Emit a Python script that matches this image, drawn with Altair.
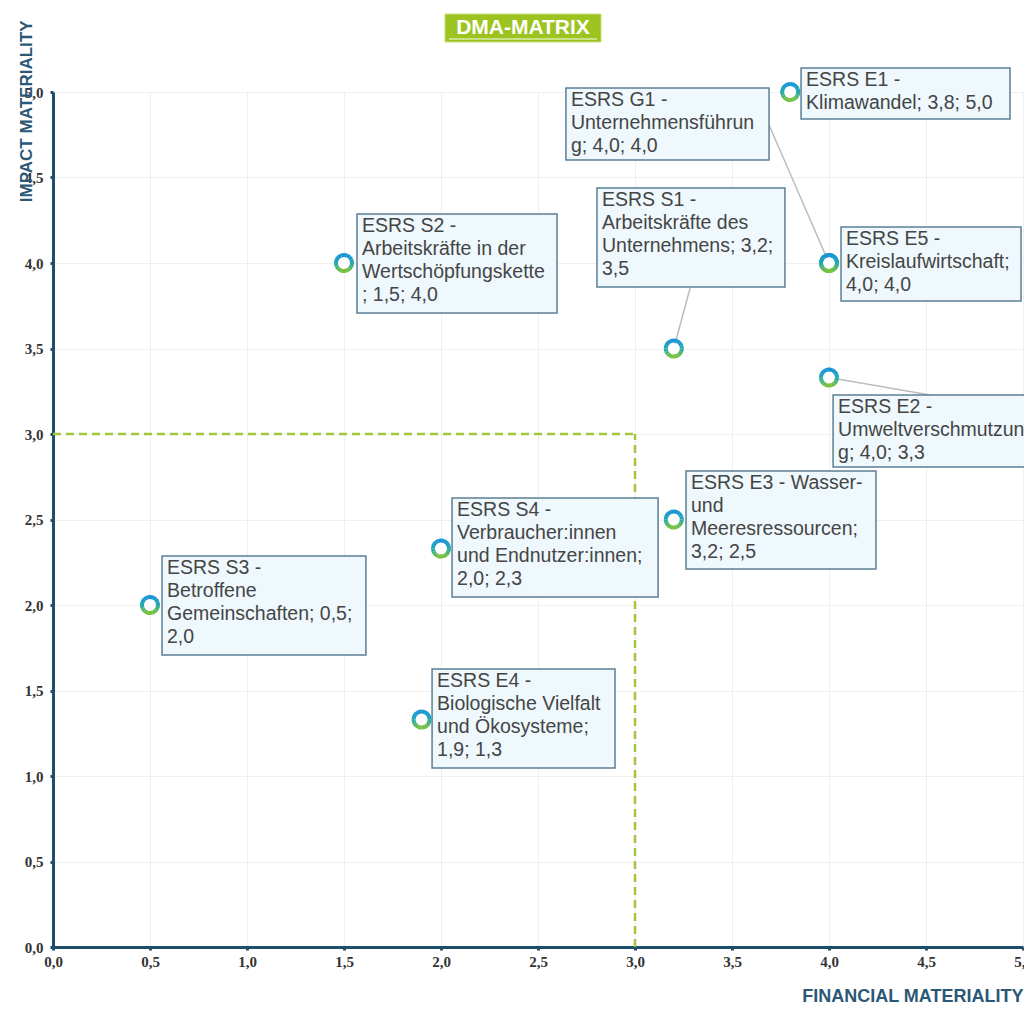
import math
import altair as alt
import pandas as pd

# Topics (points)
codes = ["E1", "G1", "S1", "S2", "E5", "E2", "E3", "S4", "S3", "E4"]
fin = [3.8, 4.0, 3.2, 1.5, 4.0, 4.0, 3.2, 2.0, 0.5, 1.9]
imp = [5.0, 4.0, 3.5, 4.0, 4.0, 3.33, 2.5, 2.33, 2.0, 1.33]
labels = [
    "ESRS E1 -\nKlimawandel; 3,8; 5,0",
    "ESRS G1 -\nUnternehmensführun\ng; 4,0; 4,0",
    "ESRS S1 -\nArbeitskräfte des\nUnternehmens; 3,2;\n3,5",
    "ESRS S2 -\nArbeitskräfte in der\nWertschöpfungskette\n; 1,5; 4,0",
    "ESRS E5 -\nKreislaufwirtschaft;\n4,0; 4,0",
    "ESRS E2 -\nUmweltverschmutzun\ng; 4,0; 3,3",
    "ESRS E3 - Wasser-\nund\nMeeresressourcen;\n3,2; 2,5",
    "ESRS S4 -\nVerbraucher:innen\nund Endnutzer:innen;\n2,0; 2,3",
    "ESRS S3 -\nBetroffene\nGemeinschaften; 0,5;\n2,0",
    "ESRS E4 -\nBiologische Vielfalt\nund Ökosysteme;\n1,9; 1,3",
]
# Label box extents (data units)
box_x0 = [3.856, 2.644, 2.804, 1.567, 4.062, 4.021, 3.263, 2.057, 0.562, 1.954]
box_x1 = [4.933, 3.691, 3.773, 2.598, 4.990, 5.300, 4.242, 3.119, 1.613, 2.897]
box_y0 = [5.140, 5.023, 4.439, 4.287, 4.211, 3.228, 2.784, 2.626, 2.287, 1.626]
box_y1 = [4.842, 4.602, 3.860, 3.708, 3.778, 2.807, 2.211, 2.047, 1.708, 1.047]

# Leader lines from label to point
lead_x0 = [3.691, 3.284, 4.0]
lead_y0 = [4.807, 3.854, 3.33]
lead_x1 = [4.0, 3.2, 4.521]
lead_y1 = [4.0, 3.5, 3.228]

# Threshold dashed lines
thr_x0 = [0.0, 3.0]
thr_y0 = [3.0, 0.0]
thr_x1 = [3.0, 3.0]
thr_y1 = [3.0, 3.0]

ticks = [0, 0.5, 1, 1.5, 2, 2.5, 3, 3.5, 4, 4.5, 5]

pts = pd.DataFrame({"code": codes, "fin": fin, "imp": imp, "label": labels,
                    "bx0": box_x0, "bx1": box_x1, "by0": box_y0, "by1": box_y1})
leads = pd.DataFrame({"x0": lead_x0, "y0": lead_y0, "x1": lead_x1, "y1": lead_y1})
thr = pd.DataFrame({"x0": thr_x0, "y0": thr_y0, "x1": thr_x1, "y1": thr_y1})

# Ring styling: blue at the top fading to green at the bottom
top_rgb = (0x18, 0x96, 0xd6)
mid_rgb = (0x1f, 0xa8, 0xb4)
bot_rgb = (0x7a, 0xc3, 0x3c)
nseg = 16
ring_rows = []
for c, fx, iy in zip(codes, fin, imp):
    for k in range(nseg):
        a0 = k * 2 * math.pi / nseg
        a1 = (k + 1) * 2 * math.pi / nseg + 0.02
        t = (1 - math.cos((a0 + a1) / 2)) / 2
        if t < 0.5:
            s = t / 0.5
            rgb = tuple(int(round(top_rgb[j] + (mid_rgb[j] - top_rgb[j]) * s)) for j in range(3))
        else:
            s = (t - 0.5) / 0.5
            rgb = tuple(int(round(mid_rgb[j] + (bot_rgb[j] - mid_rgb[j]) * s)) for j in range(3))
        ring_rows.append({"fin": fx, "imp": iy, "a0": a0, "a1": a1,
                          "col": "#%02x%02x%02x" % rgb})
ring = pd.DataFrame(ring_rows)

axis_color = "#1f4e6b"
title_color = "#2b5876"
lab_expr = "replace(format(datum.value, '.1f'), '.', ',')"

xscale = alt.Scale(domain=[0, 5], nice=False, zero=False)
yscale = alt.Scale(domain=[0, 5], nice=False, zero=False)

xaxis = alt.Axis(values=ticks, labelExpr=lab_expr, title="FINANCIAL MATERIALITY",
                 titleAnchor="end", titleAlign="right", titleX=970, titleY=49,
                 titleBaseline="middle", titleFont="Liberation Sans", titleFontSize=18,
                 titleFontWeight="bold", titleColor=title_color,
                 domainColor=axis_color, domainWidth=3, tickColor=axis_color,
                 tickSize=3, tickWidth=3, labelFont="Liberation Serif",
                 labelFontWeight="bold", labelFontSize=15, labelColor="#333333",
                 labelPadding=4, grid=True, gridColor="#efefef", gridWidth=1,
                 labelFlush=False)
yaxis = alt.Axis(values=ticks, labelExpr=lab_expr, title="IMPACT MATERIALITY",
                 titleAnchor="end", titleAngle=270, titleAlign="right",
                 titleX=-27, titleY=-72, titleBaseline="middle",
                 titleFont="Liberation Sans", titleFontSize=17, titleFontWeight="bold",
                 titleColor=title_color, domainColor=axis_color, domainWidth=3,
                 tickColor=axis_color, tickSize=3, tickWidth=3,
                 labelFont="Liberation Serif", labelFontWeight="bold", labelFontSize=15,
                 labelColor="#333333", labelPadding=7, grid=True, gridColor="#efefef",
                 gridWidth=1, labelFlush=False)

base_axes = alt.Chart(pts).mark_point(opacity=0).encode(
    x=alt.X("fin:Q", scale=xscale, axis=xaxis),
    y=alt.Y("imp:Q", scale=yscale, axis=yaxis),
)

threshold = alt.Chart(thr).mark_rule(color="#a4c639", strokeWidth=2.5,
                                     strokeDash=[8, 5]).encode(
    x=alt.X("x0:Q", scale=xscale), y=alt.Y("y0:Q", scale=yscale),
    x2="x1:Q", y2="y1:Q")

lead_lines = alt.Chart(leads).mark_rule(color="#bdbdbd", strokeWidth=1.5).encode(
    x=alt.X("x0:Q", scale=xscale), y=alt.Y("y0:Q", scale=yscale),
    x2="x1:Q", y2="y1:Q")

boxes = alt.Chart(pts).mark_rect(fill="#eef8fd", stroke="#5b7f94",
                                 strokeWidth=1.5).encode(
    x=alt.X("bx0:Q", scale=xscale), x2="bx1:Q",
    y=alt.Y("by0:Q", scale=yscale), y2="by1:Q")

texts = alt.Chart(pts).mark_text(align="left", baseline="top", dx=5, dy=3,
                                 font="Liberation Sans", fontSize=19.5,
                                 lineHeight=23, lineBreak="\n",
                                 color="#454545").encode(
    x=alt.X("bx0:Q", scale=xscale), y=alt.Y("by0:Q", scale=yscale),
    text="label:N")

points = alt.Chart(pts).mark_point(shape="circle", size=110, filled=True,
                                   color="white", opacity=1).encode(
    x=alt.X("fin:Q", scale=xscale), y=alt.Y("imp:Q", scale=yscale))

rings = alt.Chart(ring).mark_arc(radius=10, radius2=6).encode(
    x=alt.X("fin:Q", scale=xscale), y=alt.Y("imp:Q", scale=yscale),
    theta=alt.Theta("a0:Q", scale=None), theta2="a1:Q",
    color=alt.Color("col:N", scale=None))

title_df = pd.DataFrame({"t": ["DMA-MATRIX"]})
title_bg = alt.Chart(title_df).mark_rect(fill="#9cc31f", stroke="#c9e07a",
                                         strokeWidth=1).encode(
    x=alt.value(392), x2=alt.value(548), y=alt.value(-78), y2=alt.value(-50))
title_line = alt.Chart(title_df).mark_rule(color="#d8ecaa", strokeWidth=1.5).encode(
    x=alt.value(396), x2=alt.value(544), y=alt.value(-53))
title_txt = alt.Chart(title_df).mark_text(font="Liberation Sans", fontSize=21,
                                          fontWeight="bold", color="white",
                                          baseline="middle", align="center").encode(
    x=alt.value(470), y=alt.value(-64), text="t:N")

chart = alt.layer(base_axes, threshold, lead_lines, boxes, texts, points, rings,
                  title_bg, title_line, title_txt).properties(
    width=970, height=855, autosize="none",
    padding={"left": 45, "top": 84, "right": 1, "bottom": 60},
).configure_view(stroke=None)

chart.save("out.html", embed_options={"renderer": "svg", "actions": False})
